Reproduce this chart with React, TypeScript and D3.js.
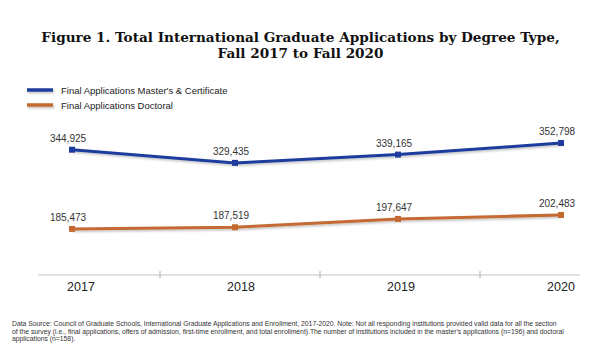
import React from "react";
import * as d3 from "d3";

const years = ["2017", "2018", "2019", "2020"];
const mastersValues = [344925, 329435, 339165, 352798];
const doctoralValues = [185473, 187519, 197647, 202483];
const seriesNames = ["Final Applications Master's & Certificate", "Final Applications Doctoral"];
const titleLines = [
  "Figure 1. Total International Graduate Applications by Degree Type,",
  "Fall 2017 to Fall 2020",
];
const footnoteLines = [
  "Data Source: Council of Graduate Schools, International Graduate Applications and Enrollment, 2017-2020. Note: Not all responding institutions provided valid data for all the section",
  "of the survey (i.e., final applications, offers of admission, first-time enrollment, and total enrollment).The number of institutions included in the master's applications (n=196) and doctoral",
  "applications (n=158).",
];

const W = 593;
const H = 359;
const BLUE = "#1f3d9e";
const ORANGE = "#c46a31";
const fmt = d3.format(",");

export default function App() {
  const xPoint = d3.scalePoint<string>().domain(years).range([72, 561]);
  const xBand = d3.scaleBand<string>().domain(years).range([0, 640]);
  const yBlue = d3.scaleLinear().domain([320000, 360000]).range([170.9, 136.9]);
  const yOrange = d3.scaleLinear().domain([180000, 210000]).range([233.4, 208.8]);

  const series = [
    { name: seriesNames[0], values: mastersValues, y: yBlue, color: BLUE },
    { name: seriesNames[1], values: doctoralValues, y: yOrange, color: ORANGE },
  ];

  const axisY = 275;
  const font = "'Liberation Sans', Arial, sans-serif";

  return (
    <svg width={W} height={H} style={{ position: "absolute", left: 0, top: 0, background: "#fff" }}>
      <rect width={W} height={H} fill="#fff" />
      <defs>
        <filter id="sh" filterUnits="userSpaceOnUse" x="0" y="0" width={W} height={H}>
          <feDropShadow dx="1" dy="1.5" stdDeviation="1" floodColor="#000" floodOpacity="0.25" />
        </filter>
      </defs>
      {titleLines.map((t, i) => (
        <text
          key={i}
          x={W / 2 + 4}
          y={42 + i * 16}
          textAnchor="middle"
          fontFamily="'DejaVu Serif', Georgia, serif"
          fontWeight="bold"
          fontSize={13.6}
          fill="#111"
        >
          {t}
        </text>
      ))}

      {series.map((s, i) => (
        <g key={s.name}>
          <line x1={27} x2={53} y1={90 + i * 15} y2={90 + i * 15} stroke={s.color} strokeWidth={3.5} filter="url(#sh)" />
          <text x={61} y={93.5 + i * 15} fontFamily={font} fontSize={9.5} fill="#222">
            {s.name}
          </text>
        </g>
      ))}

      {series.map((s) => {
        const line = d3
          .line<number>()
          .x((_, j) => xPoint(years[j]) as number)
          .y((v) => s.y(v));
        return (
          <g key={s.name + "-line"}>
            <path d={line(s.values) || ""} fill="none" stroke={s.color} strokeWidth={3} filter="url(#sh)" />
            {s.values.map((v, j) => (
              <rect
                key={j}
                x={(xPoint(years[j]) as number) - 3}
                y={s.y(v) - 3}
                width={6}
                height={6}
                fill={s.color}
              />
            ))}
            {s.values.map((v, j) => (
              <text
                key={"l" + j}
                x={(xPoint(years[j]) as number) - 4}
                y={s.y(v) - 8}
                textAnchor="middle"
                fontFamily={font}
                fontSize={10}
                fill="#333"
              >
                {fmt(v)}
              </text>
            ))}
          </g>
        );
      })}

      <line x1={38} x2={580} y1={axisY} y2={axisY} stroke="#c4c4c4" strokeWidth={1.2} />
      {years.slice(1).map((yr) => (
        <line
          key={"t" + yr}
          x1={xBand(yr) as number}
          x2={xBand(yr) as number}
          y1={axisY - 4}
          y2={axisY + 3}
          stroke="#b0b0b0"
          strokeWidth={1}
        />
      ))}
      {years.map((yr) => (
        <text
          key={"a" + yr}
          x={(xBand(yr) as number) + xBand.bandwidth() / 2 + 1}
          y={291}
          textAnchor="middle"
          fontFamily={font}
          fontSize={12.5}
          fill="#222"
        >
          {yr}
        </text>
      ))}

      {footnoteLines.map((t, i) => (
        <text key={"f" + i} x={12} y={326 + i * 7.5} fontFamily={font} fontSize={6.8} fill="#333">
          {t}
        </text>
      ))}
    </svg>
  );
}
